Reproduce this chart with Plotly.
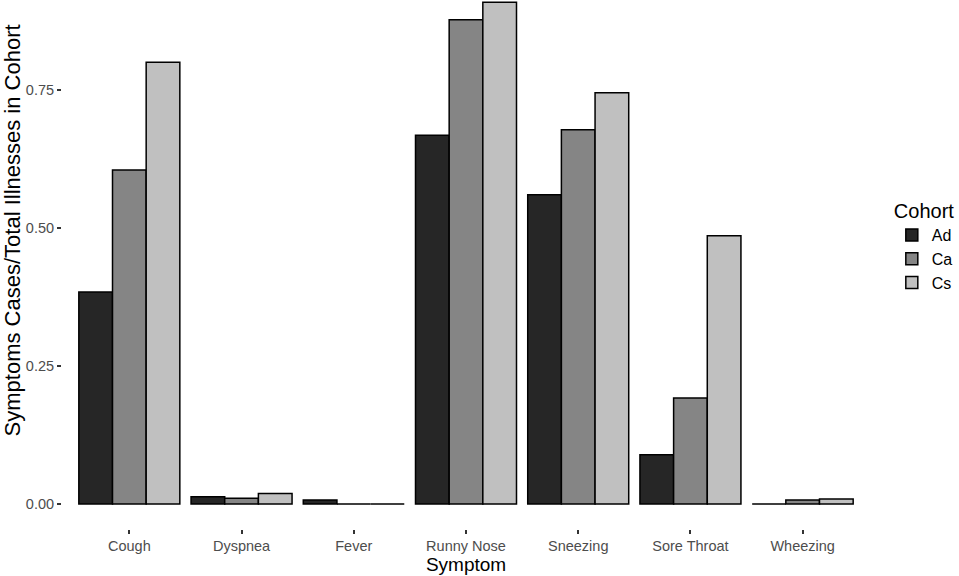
import plotly.graph_objects as go

# symptom categories and share of illnesses per cohort
symptoms = ["Cough", "Dyspnea", "Fever", "Runny Nose", "Sneezing", "Sore Throat", "Wheezing"]
ad_vals = [0.384, 0.013, 0.007, 0.668, 0.560, 0.089, 0.0]
ca_vals = [0.605, 0.010, 0.0, 0.877, 0.678, 0.192, 0.007]
cs_vals = [0.800, 0.019, 0.0, 0.909, 0.745, 0.486, 0.009]
cohorts = ["Ad", "Ca", "Cs"]
colors = ["#262626", "#858585", "#c0c0c0"]
y_ticks = [0, 0.25, 0.5, 0.75]

fig = go.Figure()
for name, vals, col in zip(cohorts, [ad_vals, ca_vals, cs_vals], colors):
    fig.add_trace(go.Bar(x=symptoms, y=vals, name=name,
                         marker=dict(color=col, line=dict(color="black", width=1.5))))

fig.update_layout(
    width=959, height=576,
    barmode="group", bargap=0.1, bargroupgap=0,
    plot_bgcolor="white", paper_bgcolor="white",
    font=dict(family="Liberation Sans, Arial, sans-serif", color="black"),
    margin=dict(l=62, r=89, t=0, b=47, autoexpand=False),
    legend=dict(title=dict(text="Cohort", font=dict(size=20)),
                font=dict(size=16), x=1.027, xanchor="left", y=0.535, yanchor="middle",
                tracegroupgap=0),
)
# y title as an annotation: the original panel ran above the cropped top edge
fig.add_annotation(text="Symptoms Cases/Total Illnesses in Cohort", textangle=-90,
                   xref="paper", yref="paper", x=-0.0615, y=0.565,
                   xanchor="center", yanchor="middle", showarrow=False,
                   font=dict(size=22))
fig.update_xaxes(title=dict(text="Symptom", font=dict(size=19), standoff=2),
                 ticks="outside", ticklen=4, tickcolor="#333", tickwidth=1.5,
                 tickfont=dict(size=14.5, color="#4d4d4d"), showline=False,
                 range=[-0.6, 6.6], automargin=False)
fig.update_yaxes(tickvals=y_ticks, tickformat=".2f", ticks="outside", ticklen=4,
                 tickcolor="#333", tickwidth=1.5, tickfont=dict(size=14.5, color="#4d4d4d"),
                 showgrid=False, zeroline=False, showline=False,
                 range=[-0.0455, 0.913], automargin=False)

# drop the page's default body margin so the figure fills the window
fig.write_html("out.html", config={"displayModeBar": False},
               post_script="document.body.style.margin='0';")
